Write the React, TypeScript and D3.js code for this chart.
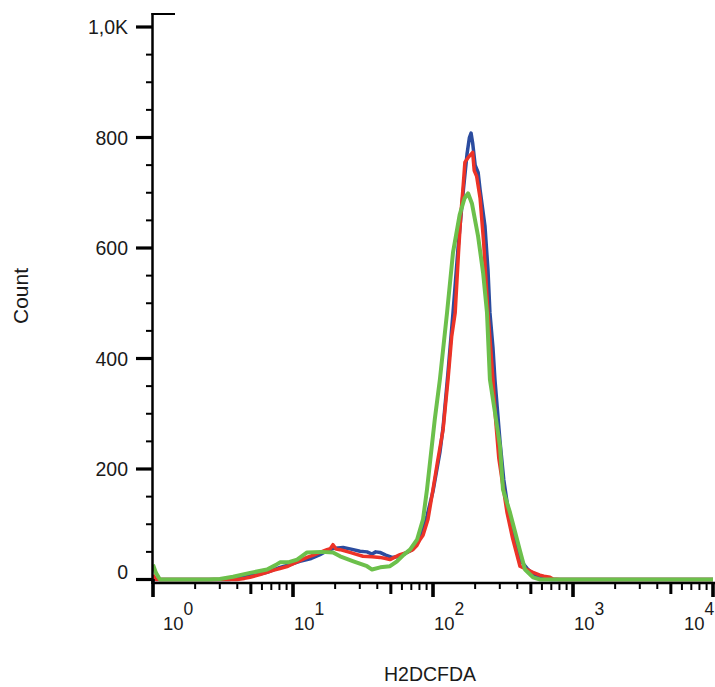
import React from "react";
import * as d3 from "d3";

const blueSeries: [number, number][] = [
  [1, 0], [3.5, 0], [4.3, 3], [4.93, 7], [5.8, 10], [6.52, 13], [8.07, 22], [9.5, 27], [11.2, 33],
  [13.5, 38], [15.6, 45], [17.5, 52], [19.3, 56], [22.8, 58], [26, 55], [30.1, 51], [33.8, 50],
  [36.7, 46], [39, 50], [41.8, 49], [46, 44], [51, 40], [58.1, 42], [61.1, 45], [65.2, 49],
  [71.9, 55], [76.9, 66], [84.9, 90], [90.6, 115], [100, 160], [112, 230], [118, 275], [128, 375],
  [139, 483], [151, 600], [164, 700], [175, 770], [182, 800], [187, 808], [192, 790], [200, 750],
  [210, 737], [217, 705], [235, 640], [247, 560], [255, 483], [268, 420], [277, 362], [301, 250],
  [320, 181], [345, 125], [370, 90], [400, 55], [430, 32], [470, 20], [518, 10], [580, 4],
  [640, 1], [700, 0], [10000, 0],
];

const redSeries: [number, number][] = [
  [1, 8], [1.05, 0], [3.98, 0], [4.5, 2], [4.93, 4], [5.8, 9], [6.52, 13], [7.3, 17], [8.07, 20],
  [9.21, 24], [10.7, 32], [12.6, 40], [14, 44], [15.6, 49], [17.5, 54], [18.5, 56], [19.3, 63],
  [20.3, 55], [21.7, 54], [25.5, 49], [28, 46], [31.6, 42], [36.7, 41], [41.8, 40], [46, 38],
  [49.3, 36], [53, 40], [58.1, 45], [65.2, 49], [71.9, 54], [76.9, 62], [80.7, 72], [84.9, 80],
  [92.1, 109], [100, 163], [108, 215], [118, 271], [128, 362], [136, 440], [144, 483], [152, 590],
  [158, 660], [164, 710], [169, 755], [180, 765], [192, 773], [197, 740], [205, 730], [217, 690],
  [230, 610], [247, 483], [258, 420], [268, 362], [280, 290], [295, 220], [311, 181], [338, 121],
  [370, 75], [418, 24], [470, 18], [518, 13], [580, 8], [620, 6], [685, 4], [720, 1], [808, 0],
  [10000, 0],
];

const greenSeries: [number, number][] = [
  [1, 27], [1.05, 12], [1.12, 0], [2.5, 0], [3.0, 1], [3.73, 5], [4.93, 12], [6.52, 18], [7.5, 26],
  [8.07, 31], [9.21, 31], [10.7, 36], [12.6, 49], [16, 50], [19.3, 49], [21.7, 42], [27, 33],
  [33.8, 24], [36.7, 18], [42, 22], [49.3, 24], [55.3, 33], [62, 45], [68.5, 54], [76.9, 72],
  [84.9, 109], [90.6, 163], [103, 290], [112, 362], [126, 483], [139, 592], [155, 660], [168, 690],
  [178, 699], [190, 680], [210, 621], [228, 555], [243, 483], [255, 362], [278, 300], [301, 241],
  [316, 163], [355, 121], [385, 87], [418, 52], [454, 18], [518, 4], [583, 0], [10000, 0],
];

const yMajorTicks = [0, 200, 400, 600, 800, 1000];
const yMajorLabels = ["0", "200", "400", "600", "800", "1,0K"];
const yMinorTicks = [50, 100, 150, 250, 300, 350, 450, 500, 550, 650, 700, 750, 850, 900, 950];
const xDecades = [1, 10, 100, 1000, 10000];
const xExponents = ["0", "1", "2", "3", "4"];
const xMinorMultipliers = [2, 3, 4, 5, 6, 7, 8, 9];

const xTitle = "H2DCFDA";
const yTitle = "Count";

const FONT = "'Liberation Sans', Arial, sans-serif";

export default function App() {
  const W = 715;
  const H = 687;
  const x = d3.scaleLog().domain([1, 10000]).range([153, 713]);
  const y = d3.scaleLinear().domain([0, 1000]).range([579.5, 27]);
  const axisY = 583;
  const axisX = 152.5;
  const top = 14;

  const line = d3
    .line<[number, number]>()
    .x((d) => x(d[0]))
    .y((d) => y(d[1]))
    .curve(d3.curveLinear);

  const xMinor: number[] = [];
  xDecades.slice(0, -1).forEach((d) => xMinorMultipliers.forEach((m) => xMinor.push(d * m)));

  const series = [
    { data: blueSeries, color: "#2b4c9f", w: 3.5 },
    { data: redSeries, color: "#ec3327", w: 3.5 },
    { data: greenSeries, color: "#6cc04b", w: 4 },
  ];

  return (
    <svg
      width={W}
      height={H}
      style={{ position: "absolute", left: 0, top: 0, background: "#fff" }}
      fontFamily={FONT}
    >
      <rect width={W} height={H} fill="#fff" />
      <defs>
        <clipPath id="plot">
          <rect x={axisX} y={top} width={W - axisX} height={axisY - top} />
        </clipPath>
      </defs>
      <g clipPath="url(#plot)">
        {series.map((s, i) => (
          <path
            key={i}
            d={line(s.data) || ""}
            fill="none"
            stroke={s.color}
            strokeWidth={s.w}
            strokeLinejoin="round"
          />
        ))}
      </g>
      {/* axes */}
      <line x1={axisX - 1} x2={175} y1={top} y2={top} stroke="#000" strokeWidth={2} />
      <line x1={axisX} x2={axisX} y1={top - 1} y2={axisY + 1} stroke="#000" strokeWidth={2.5} />
      <line x1={axisX} x2={W} y1={axisY} y2={axisY} stroke="#000" strokeWidth={2.5} />
      {/* y ticks */}
      {yMajorTicks.map((t, i) => (
        <g key={"ym" + t}>
          <line x1={136} x2={axisX} y1={y(t)} y2={y(t)} stroke="#000" strokeWidth={3.2} />
          <text
            x={128}
            y={t === 0 ? y(t) - 8 : y(t)}
            textAnchor="end"
            dominantBaseline="central"
            fontSize={19.5}
            fill="#1a1a1a"
          >
            {yMajorLabels[i]}
          </text>
        </g>
      ))}
      {yMinorTicks.map((t) => (
        <line key={"yn" + t} x1={146} x2={axisX} y1={y(t)} y2={y(t)} stroke="#000" strokeWidth={2} />
      ))}
      {/* x ticks */}
      {xDecades.map((d, i) => {
        const px = x(d);
        const start = Math.min(Math.max(px + 1, 163), 684);
        return (
          <g key={"xm" + d}>
            <line x1={px} x2={px} y1={i === 0 ? 579 : axisY} y2={597} stroke="#000" strokeWidth={3.6} />
            <text x={start} y={630} fontSize={18.5} fill="#1a1a1a">
              10
              <tspan dy={-15} fontSize={17.5}>
                {xExponents[i]}
              </tspan>
            </text>
          </g>
        );
      })}
      {xMinor.map((v) => {
        const m = Math.round(v / Math.pow(10, Math.floor(Math.log10(v) + 1e-9)));
        const len = m === 5 ? 10 : m >= 6 ? 6 : 5;
        return (
          <line
            key={"xn" + v}
            x1={x(v)}
            x2={x(v)}
            y1={axisY}
            y2={axisY + len + 1}
            stroke="#000"
            strokeWidth={m === 5 ? 3 : 2}
          />
        );
      })}
      {/* titles */}
      <text x={430} y={681} textAnchor="middle" fontSize={19.5} fill="#1a1a1a">
        {xTitle}
      </text>
      <text
        transform="translate(28,296) rotate(-90)"
        textAnchor="middle"
        fontSize={21}
        fill="#1a1a1a"
      >
        {yTitle}
      </text>
    </svg>
  );
}
